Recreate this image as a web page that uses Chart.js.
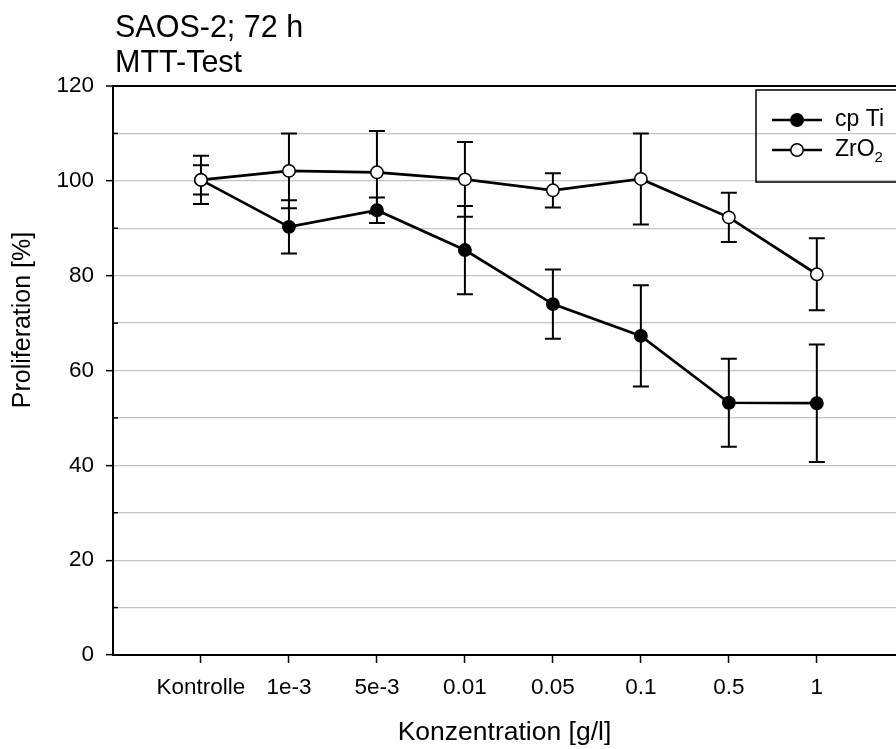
<!DOCTYPE html>
<html>
<head>
<meta charset="utf-8">
<script src="https://cdn.jsdelivr.net/npm/chart.js@4.4.1/dist/chart.umd.min.js"></script>
<style>
  html, body { margin: 0; padding: 0; background: #fff; }
  #wrap { width: 896px; height: 749px; }
</style>
</head>
<body>
<div id="wrap"><canvas id="myChart" width="896" height="749"></canvas></div>
<script>
const labels = ['Kontrolle', '1e-3', '5e-3', '0.01', '0.05', '0.1', '0.5', '1'];

const cpTi = [100.2, 90.3, 93.8, 85.4, 74.0, 67.3, 53.2, 53.1];
const cpTiErr = [3.1, 5.6, 2.7, 9.3, 7.3, 10.7, 9.3, 12.4];

const zro2 = [100.2, 102.1, 101.8, 100.3, 98.0, 100.4, 92.3, 80.3];
const zro2Err = [5.1, 7.9, 8.7, 7.9, 3.6, 9.6, 5.2, 7.6];

const yTicks = [0, 20, 40, 60, 80, 100, 120];

const FONT = '"Liberation Sans", Arial, sans-serif';

function points(vals) {
  return vals.map((v, i) => ({ x: i, y: v }));
}

// error bars drawn under the markers
const errorBars = {
  id: 'errorBars',
  beforeDatasetsDraw(chart) {
    const ctx = chart.ctx;
    const xs = chart.scales.x, ys = chart.scales.y;
    chart.data.datasets.forEach((ds) => {
      ctx.save();
      ctx.strokeStyle = '#000';
      ctx.lineWidth = 2;
      ds.data.forEach((p, i) => {
        const e = ds.errors[i];
        const x = xs.getPixelForValue(p.x);
        const top = ys.getPixelForValue(p.y + e);
        const bot = ys.getPixelForValue(p.y - e);
        ctx.beginPath();
        ctx.moveTo(x, top); ctx.lineTo(x, bot);
        ctx.moveTo(x - 8, top); ctx.lineTo(x + 8, top);
        ctx.moveTo(x - 8, bot); ctx.lineTo(x + 8, bot);
        ctx.stroke();
      });
      ctx.restore();
    });
  }
};

// titles, minor ticks, legend
const extras = {
  id: 'extras',
  afterDraw(chart) {
    const ctx = chart.ctx;
    const area = chart.chartArea;
    const ys = chart.scales.y;
    ctx.save();

    // minor ticks inside the axis
    ctx.strokeStyle = '#000';
    ctx.lineWidth = 1.5;
    for (let v = 10; v < 120; v += 20) {
      const y = ys.getPixelForValue(v);
      ctx.beginPath();
      ctx.moveTo(area.left, y);
      ctx.lineTo(area.left + 5, y);
      ctx.stroke();
    }

    // chart title
    ctx.fillStyle = '#000';
    ctx.font = '30.5px ' + FONT;
    ctx.textAlign = 'left';
    ctx.textBaseline = 'alphabetic';
    ctx.fillText('SAOS-2; 72 h', area.left + 2, 37);
    ctx.fillText('MTT-Test', area.left + 2, 72);

    // y axis title
    ctx.save();
    ctx.translate(23, 320);
    ctx.rotate(-Math.PI / 2);
    ctx.font = '25px ' + FONT;
    ctx.textAlign = 'center';
    ctx.textBaseline = 'middle';
    ctx.fillText('Proliferation [%]', 0, 0);
    ctx.restore();

    // legend
    const bx = area.right - 140, by = 90;
    ctx.lineWidth = 1.5;
    ctx.strokeRect(bx, by, 160, 92);
    const order = [1, 0];
    order.forEach((di, row) => {
      const ds = chart.data.datasets[di];
      const y = by + 30 + row * 30;
      ctx.beginPath();
      ctx.lineWidth = 2.7;
      ctx.moveTo(bx + 16, y);
      ctx.lineTo(bx + 66, y);
      ctx.stroke();
      ctx.beginPath();
      ctx.arc(bx + 41, y, 6.2, 0, Math.PI * 2);
      ctx.fillStyle = ds.pointBackgroundColor;
      ctx.fill();
      ctx.lineWidth = 1.5;
      ctx.stroke();
      ctx.fillStyle = '#000';
      ctx.font = '23px ' + FONT;
      ctx.textAlign = 'left';
      ctx.textBaseline = 'middle';
      const parts = ds.label.split('_');
      ctx.fillText(parts[0], bx + 79, y);
      if (parts[1]) {
        const w = ctx.measureText(parts[0]).width;
        ctx.font = '15px ' + FONT;
        ctx.fillText(parts[1], bx + 79 + w, y + 8);
      }
    });
    ctx.restore();
  }
};

const data = {
  datasets: [
    {
      label: 'ZrO_2',
      data: points(zro2),
      errors: zro2Err,
      borderColor: '#000',
      borderWidth: 2.7,
      pointRadius: 6.2,
      pointBorderWidth: 1.5,
      pointBackgroundColor: '#fff',
      pointBorderColor: '#000',
      order: 0
    },
    {
      label: 'cp Ti',
      data: points(cpTi),
      errors: cpTiErr,
      borderColor: '#000',
      borderWidth: 2.7,
      pointRadius: 6.2,
      pointBorderWidth: 1.5,
      pointBackgroundColor: '#000',
      pointBorderColor: '#000',
      order: 1
    }
  ]
};

const config = {
  type: 'line',
  data: data,
  plugins: [errorBars, extras],
  options: {
    responsive: false,
    animation: false,
    layout: { autoPadding: false, padding: { top: 86, left: 0, right: 0, bottom: 0 } },
    plugins: {
      legend: { display: false },
      tooltip: { enabled: false }
    },
    scales: {
      x: {
        type: 'linear',
        min: -1,
        max: 7.9,
        afterFit(scale) {
          scale.height = 94;
          scale.paddingLeft = 0;
          scale.paddingRight = 0;
        },
        afterBuildTicks(scale) {
          scale.ticks = labels.map((_, i) => ({ value: i }));
        },
        ticks: {
          color: '#000',
          padding: 11,
          maxRotation: 0,
          autoSkip: false,
          font: { family: FONT, size: 22.5 },
          callback: (v) => labels[v]
        },
        grid: {
          drawOnChartArea: false,
          drawTicks: true,
          tickLength: 8,
          tickColor: '#000',
          tickWidth: 1.5
        },
        border: { display: true, color: '#000', width: 2 },
        title: {
          display: true,
          text: 'Konzentration [g/l]',
          color: '#000',
          font: { family: FONT, size: 26.5, lineHeight: 1.2 },
          padding: { top: 0, bottom: 0 }
        }
      },
      y: {
        min: 0,
        max: 120,
        afterFit(scale) { scale.width = 113; },
        ticks: {
          stepSize: 10,
          color: '#000',
          padding: 12,
          font: { family: FONT, size: 22.5 },
          callback: (v) => (yTicks.includes(v) ? v : '')
        },
        grid: {
          color: (c) => (c.tick && c.tick.value === 120 ? '#000' : '#c4c4c4'),
          lineWidth: (c) => (c.tick && c.tick.value === 120 ? 2 : 1.3),
          tickLength: 7,
          tickWidth: 1.5,
          tickColor: (c) => (c.tick && yTicks.includes(c.tick.value) ? '#000' : 'rgba(0,0,0,0)')
        },
        border: { display: true, color: '#000', width: 2 }
      }
    }
  }
};

const myChart = new Chart(document.getElementById('myChart'), config);
</script>
</body>
</html>
